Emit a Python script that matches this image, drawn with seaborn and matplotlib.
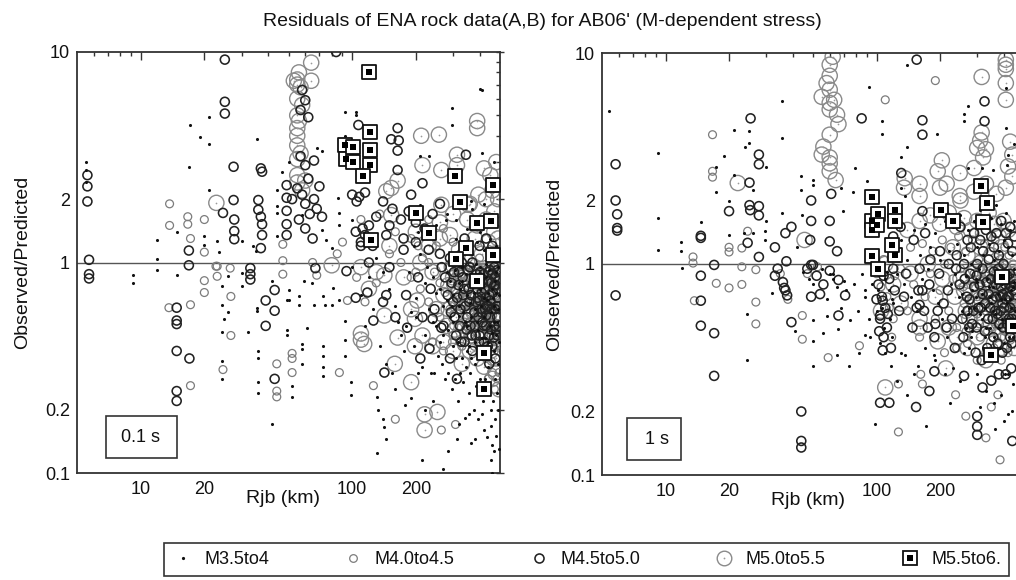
import numpy as np
import pandas as pd
import matplotlib
matplotlib.use("Agg")
import matplotlib.pyplot as plt
import seaborn as sns
from matplotlib.lines import Line2D
from matplotlib.patches import Rectangle
from matplotlib.legend_handler import HandlerTuple
from matplotlib.ticker import FixedLocator, FixedFormatter, NullFormatter

sns.set_style("white")
plt.rcParams["font.family"] = ["Liberation Sans", "DejaVu Sans"]

TITLE = "Residuals of ENA rock data(A,B) for AB06' (M-dependent stress)"
PANEL_LABELS = ["0.1 s", "1 s"]
CLASSES = ["M3.5to4", "M4.0to4.5", "M4.5to5.0", "M5.0to5.5", "M5.5to6."]
X_TICKS = [10, 20, 100, 200]
X_TICK_LABELS = ["10", "20", "100", "200"]
X_MINOR = [6, 7, 8, 9, 30, 40, 50, 60, 70, 80, 90, 300, 400]
Y_TICKS = [0.1, 0.2, 1, 2, 10]
Y_TICK_LABELS = ["0.1", "0.2", "1", "2", "10"]
Y_MINOR = [0.3, 0.4, 0.5, 0.6, 0.7, 0.8, 0.9, 3, 4, 5, 6, 7, 8, 9]

# ---------------- Left panel (0.1 s): (Rjb km, Observed/Predicted) ----------------
L_M35 = [(5.5,3.0),(5.5,2.75),(5.5,2.4),(17.2,4.5),(19,3.95),(21,4.9),(21,3.65),(35.5,3.85),(17,2.85),
 (21,2.2),(44,2.2),(50,3.0),(46.5,2.7),(12,1.28),(11.9,1.04),(14.8,1.4),(20,1.34),(20,1.21),(23,1.26),
 (30,1.26),(34,1.2),(35,1.13),(44,1.34),(44,1.72),(44,1.85),(23.5,1.12),(92,5.2),(104,5.2),(104,5.0),
 (92,4.0),(410,6.6),(297,5.4),(297,4.5),(410,3.3),(470,3.0),(68,3.5),(72,3.4),(232,3.2),(210,3.2),
 (86,2.02),(87,1.72),(87,1.5),(100,1.59),(72,1.43),(75,1.28),(80,1.17),(210,1.88),(279,1.59),(366,1.95),
 (58,1.68),(50,0.74),(50,0.66),(56,0.69),(56,0.63),(59,0.82),(64.5,0.8),(81,0.76),(66,0.63),(73,0.69),
 (74,0.63),(87,0.66),(80,0.63),(49,0.48),(49,0.45),(61,0.49),(58,0.41),(58,0.39),(73,0.4),(73,0.36),
 (73,0.32),(73,0.29),(58,0.33),(52,0.26),(52,0.23),(92,0.53),(92,0.43),(92,0.36),(99,0.27),(99,0.235),
 (131,0.23),(132,0.2),(140,0.18),(142,0.165),(145,0.145),(131,0.125),(213,0.115),(270,0.105),(285,0.127),
 (313,0.145),(366,0.139),(380,0.145),(420,0.16),(455,0.167),(460,0.136),(470,0.127),(455,0.115),(460,0.1),
 (435,0.148),(410,0.19),(355,0.19),(340,0.183),(320,0.17),(240,0.22),(220,0.2),(190,0.227),(178,0.21),
 (160,0.25),(9.2,0.87),(9.2,0.8),(11.9,0.92),(14.8,0.87),(26,0.86),(24.2,0.77),(24.2,0.63),(24.7,0.54),
 (25.8,0.58),(24.2,0.47),(30,0.89),(30,0.77),(32,0.47),(35.5,0.61),(35.5,0.59),(36,0.38),(36,0.35),
 (36,0.27),(36,0.24),(24.2,0.34),(24.2,0.28),(42,0.82),(42,0.17),(49,0.66),(400,6.7),
 (210,1.1),(225,0.95),(240,0.85),(260,0.75),(280,0.9),(300,1.0),(320,0.8),(350,0.7),(380,0.6),(420,0.55),
 (450,0.5),(480,0.45),(230,0.6),(250,0.5),(270,0.45),(300,0.4),(330,0.35),(360,0.3),(400,0.28),(440,0.32),
 (470,0.38),(490,0.6),(460,0.75),(430,0.85),(400,0.95),(370,1.1),(340,1.2),(310,1.3),(290,0.55),(320,0.62),
 (350,0.5),(380,0.42),(410,0.36),(440,0.42),(470,0.52),(495,0.7),(480,0.9),(450,1.05),(420,1.15),(390,1.25),
 (360,0.85),(330,0.95),(300,0.7),(270,0.62),(250,0.72),(220,0.8),(200,0.68),(190,0.58),(180,0.5),(170,0.45),
 (160,0.62),(150,0.75),(140,0.9),(130,1.05),(120,0.85),(110,0.7),(100,0.95),(115,0.5),(125,0.6),(135,0.4),
 (145,0.33),(155,0.3),(165,0.52),(175,0.38),(185,0.9),(195,1.2),(205,1.4),(215,0.32),(235,0.3),(255,0.36),
 (275,0.28),(295,0.25),(315,0.22),(335,0.27),(355,0.24),(375,0.2),(395,0.18),(415,0.22),(435,0.25),
 (455,0.2),(475,0.28),(490,0.33),(250,1.5),(280,1.7),(310,1.6),(350,1.45),(400,1.4),(450,1.3),(480,1.2),
 (330,2.0),(370,1.8),(420,1.9),(460,1.7),
 (285,0.48),(295,0.62),(305,0.92),(315,0.42),(325,0.75),(335,0.58),(345,0.88),(355,0.4),(365,0.55),
 (375,0.72),(385,0.98),(395,0.48),(405,0.62),(415,0.78),(425,0.44),(435,0.66),(445,0.92),(455,0.58),
 (465,0.68),(475,0.82),(485,0.52),(495,0.42),(490,0.95),(480,0.72),(470,0.62),(460,0.46),(450,0.36),
 (440,0.72),(430,0.98),(420,0.68),(410,0.44),(400,0.75),(390,0.52),(380,0.33),(370,0.86),(360,0.64),
 (350,0.38),(340,0.52),(330,0.82),(320,0.56),(310,0.35),(300,0.52),(290,0.82),(280,0.66),(260,0.42),
 (240,0.52),(220,0.45),(200,0.55),(195,0.4),(205,0.3),(245,0.3),(265,0.33),(285,0.3),(305,0.28),(325,0.3),
 (345,0.32),(365,0.35),(385,0.26),(405,0.24),(425,0.28),(445,0.26),(465,0.22),(485,0.24),(475,0.18),
 (490,0.2),(480,0.15),(495,0.13)]

L_M40 = [(13.7,1.9),(13.7,1.5),(16.7,1.65),(16.7,1.52),(20,1.6),(17.2,1.3),(20,1.12),(47,1.22),(47,1.02),
 (23,0.96),(52,0.37),(52,0.35),(52,0.3),(87,0.3),(126,0.26),(160,0.18),(264,0.16),(308,0.17),(95,0.66),
 (68,0.87),(22.7,0.96),(26.5,0.94),(23,0.86),(20,0.82),(20,0.72),(13.6,0.61),(17.2,0.63),(26.7,0.69),
 (26.7,0.45),(24.5,0.31),(17.2,0.26),(47,0.88),(44,0.33),(44,0.245),(44,0.23),(110,1.6),(135,1.7),
 (160,1.4),(190,1.3),(205,1.2),(230,1.6),(270,1.45),(90,1.25),(85,1.1),(65,1.0),
 (200,0.9),(230,1.0),(260,0.8),(290,0.95),(320,0.7),(350,0.9),(380,0.75),(410,0.65),(440,0.8),(470,0.7),
 (490,0.5),(470,0.45),(440,0.55),(410,0.5),(380,0.55),(350,0.6),(320,0.5),(290,0.6),(260,0.55),(230,0.65),
 (210,0.75),(190,0.85),(170,1.0),(150,1.1),(130,0.8),(115,0.65),(105,0.85),(250,1.2),(300,1.25),(350,1.15),
 (400,1.05),(450,1.0),(480,0.85),(400,0.4),(430,0.35),(460,0.3),(490,0.38),(360,0.45),(330,0.4),(300,0.45),
 (270,0.38),(240,0.42),(480,0.6),(455,0.65),(425,0.7),(395,0.85),(365,0.65),(335,0.8),(305,0.85),(275,0.72),
 (245,0.9),(215,1.05),(485,1.0),(465,0.9),(445,1.15),(415,0.95),(385,0.95),(355,1.05),(325,1.1),
 (282,0.62),(292,0.78),(302,0.5),(312,0.95),(322,0.42),(332,0.68),(342,0.85),(352,0.45),(362,0.58),
 (372,0.92),(382,0.66),(392,0.5),(402,0.6),(412,0.82),(422,0.62),(432,0.48),(442,0.68),(452,0.88),
 (462,0.56),(472,0.8),(482,0.5),(492,0.64),(488,0.86),(478,0.4),(468,0.62),(458,0.76),(448,0.42),
 (438,0.95),(428,0.58),(418,0.45),(408,0.72),(398,0.55),(388,0.82),(378,0.4),(368,0.78),(358,0.52),
 (348,0.7),(338,0.46),(328,0.88),(318,0.62),(308,0.74),(298,0.42),(495,0.3),(485,0.28),(470,0.25),
 (455,0.34),(440,0.28),
 (385,0.62),(405,0.78),(425,0.92),(445,0.6),(465,0.52),(485,0.78),(495,0.88),(475,0.66),(455,0.82),
 (435,0.52),(415,0.68),(395,0.95),(375,0.52),(490,0.45),(480,0.55),(470,0.42),(460,0.62),(450,0.72),
 (440,0.48)]

L_M45 = [(5.6,2.6),(5.6,2.3),(5.6,1.95),(5.7,1.03),(5.7,0.88),(5.7,0.84),(25,9.2),(25,5.8),(25,5.1),
 (27.5,2.85),(37,2.8),(37.5,2.7),(27.5,1.98),(24.5,1.72),(27.7,1.6),(27.7,1.41),(27.7,1.29),(36,1.98),
 (36,1.78),(37,1.65),(37.5,1.52),(37.5,1.35),(37,1.17),(49,2.33),(49,2.03),(49,1.76),(49,1.52),(49,1.35),
 (16.9,1.14),(16.9,0.97),(84,10.0),(164,4.35),(153,3.85),(166,3.8),(164,3.4),(164,2.75),(107,4.5),(215,2.38),
 (190,2.1),(345,3.25),(67,0.94),(94,0.91),(104,0.68),(118,0.72),(126,0.53),(142,0.3),(145,0.7),(182,0.49),
 (240,0.54),(264,0.49),(232,0.39),(210,0.35),(290,0.35),(313,0.28),(33,0.94),(33,0.88),(33,0.83),
 (14.8,0.61),(14.8,0.53),(14.8,0.51),(14.8,0.38),(17,0.35),(14.8,0.245),(14.8,0.22),(39,0.66),(43,0.74),
 (43,0.59),(39,0.5),(43,0.28),(57,3.2),(60,2.9),(62,2.5),(55,2.25),(58,2.1),(60,1.9),(63,1.7),(56,1.6),
 (60,1.45),(65,1.3),(52,2.0),(66,3.05),(66,2.0),(68,1.8),(70,2.3),(72,1.65),(58,6.6),(60,5.9),(57,5.3),
 (62,4.9),(100,2.1),(108,2.05),(115,2.15),(105,1.95),(112,1.45),(115,1.35),(110,1.25),(104,1.4),
 (140,1.95),(155,1.8),(170,1.6),(150,1.5),(185,1.75),(200,1.55),(220,1.45),(240,1.7),(260,1.9),(175,1.3),
 (130,1.65),(120,1.5),(145,1.35),(125,1.2),
 (205,0.85),(235,0.75),(265,0.95),(295,0.8),(325,0.6),(355,0.75),(385,0.65),(415,0.8),(445,0.7),(475,0.6),
 (490,0.75),(470,0.95),(440,0.9),(410,0.6),(380,0.5),(350,0.55),(320,0.9),(290,1.05),(260,1.1),(230,1.15),
 (200,1.25),(180,0.7),(160,0.55),(140,0.65),(120,1.0),(110,1.2),(150,0.95),(175,1.15),(310,0.45),(340,0.42),
 (370,0.38),(400,0.45),(430,0.5),(460,0.4),(485,0.45),(450,0.55),(420,0.42),(390,0.75),(360,0.95),
 (330,1.0),(300,0.65),(270,0.5),(245,0.6),(215,0.55),(480,1.05),(460,1.2),(430,1.3),(400,1.2),(370,1.0),
 (340,1.3),(455,0.8),(425,0.6),(395,0.55),(365,0.7),(335,0.7),(305,0.55),(275,0.85),(490,0.9),(485,0.55),
 (470,0.5),(445,0.45),(475,0.35),(445,0.33),
 (283,0.7),(293,0.58),(303,0.9),(313,0.68),(323,0.5),(333,0.85),(343,0.62),(353,0.92),(363,0.5),(373,0.8),
 (383,0.45),(393,0.68),(403,0.9),(413,0.52),(423,0.75),(433,0.62),(443,0.82),(453,0.48),(463,0.72),
 (473,0.85),(483,0.62),(493,0.5),(488,0.68),(478,0.78),(468,0.44),(458,0.6),(448,0.92),(438,0.4),
 (428,0.68),(418,0.88),(408,0.58),(398,0.42),(388,0.88),(378,0.58),(368,0.45),(358,0.65),(348,0.48),
 (338,0.75),(328,0.42),(318,0.78),
 (390,0.8),(410,0.72),(430,0.56),(450,0.66),(470,0.78),(490,0.62),(480,0.48),(460,0.88),(440,0.62),
 (420,0.5),(400,0.66),(495,0.82),(485,0.92)]

L_M50 = [(22.8,1.92),(53,7.3),(55,7.4),(55,7.0),(55,6.0),(55,5.0),(55,4.35),(55,3.6),(55,3.1),(55,2.6),
 (64,8.9),(64,7.3),(56,8.0),(57,6.8),(58,5.6),(56,4.7),(55,4.0),(57,3.3),(55,2.4),(58,2.2),(212,4.0),
 (257,4.05),(215,2.9),(264,2.75),(153,2.26),(145,2.18),(164,2.45),(390,4.7),(390,4.35),(313,3.25),
 (313,2.9),(355,1.88),(264,1.88),(153,1.68),(60,2.45),(110,0.46),(110,0.43),(114,0.41),(164,0.44),
 (198,0.4),(159,0.33),(190,0.27),(220,0.19),(220,0.16),(253,0.195),(203,0.66),(142,0.87),(80,0.97),
 (198,0.54),(142,0.56),(240,0.4),
 (210,1.0),(240,0.9),(270,0.7),(300,0.85),(330,0.65),(360,0.8),(390,0.7),(420,0.9),(450,0.75),(480,0.65),
 (490,0.8),(470,1.1),(440,1.25),(410,1.1),(380,1.3),(350,1.0),(320,1.15),(290,1.35),(260,1.3),(230,1.2),
 (200,1.4),(250,0.6),(280,0.5),(310,0.55),(340,0.5),(370,0.45),(400,0.55),(430,0.45),(460,0.55),(490,0.45),
 (480,0.35),(450,0.38),(420,0.32),(390,0.35),(360,0.38),(330,0.33),(300,0.38),(270,0.42),(150,1.2),
 (130,0.9),(120,0.75),(110,0.95),(175,0.85),(190,0.6),(215,0.45),(465,0.95),(435,0.6),(405,0.8),(375,0.58),
 (345,0.75),(315,0.72),(285,0.78),(470,1.4),(430,1.6),(390,1.5),(350,1.6),(300,1.7),(260,1.55),(490,1.3),
 (470,1.75),(490,2.0),(460,2.2),(430,2.0),(395,2.1),(360,1.9),(450,2.6),(420,2.8),(480,3.0),
 (286,0.6),(306,0.48),(326,0.9),(346,0.62),(366,0.5),(386,0.9),(406,0.62),(426,0.78),(446,0.5),(466,0.65),
 (486,0.72),(496,0.58),(476,0.85),(456,0.45),(436,0.7),(416,0.52),(396,0.8),(376,0.66),(356,0.55),
 (336,0.85),(316,0.62),(296,0.95),(495,0.95),(485,1.1),(475,0.3),(495,0.25),(460,0.28)]

L_M55 = [(92,3.6),(94,3.1),(120,8.0),(121,4.17),(101,3.55),(121,3.43),(101,3.0),(121,2.9),(112,2.58),
 (305,2.58),(465,2.33),(325,1.94),(200,1.72),(390,1.54),(455,1.57),(230,1.38),(123,1.28),(345,1.17),
 (310,1.04),(465,1.09),(390,0.82),(420,0.37),(420,0.25)]

# ---------------- Right panel (1 s) ----------------
R_M35 = [(5.4,5.3),(9.2,3.35),(9.2,1.65),(9.2,1.17),(11.9,1.27),(11.9,1.15),(14.7,1.58),(17.3,2.88),
 (17.3,2.2),(19,3.25),(20,1.98),(20,1.37),(21,4.3),(21,2.65),(23.7,3.6),(24.8,4.25),(24.8,3.75),(26,2.25),
 (30,2.88),(30,1.6),(29.6,1.43),(29.6,1.3),(35.6,5.9),(35.6,3.95),(35.6,1.75),(44,2.6),(44,2.25),(42,1.2),
 (44.5,1.7),(23.5,1.4),(26,1.4),(139,8.8),(92,6.9),(106,4.75),(106,4.15),(193,4.15),(139,3.6),(131,3.2),
 (260,5.15),(270,5.6),(260,4.75),(410,6.8),(410,4.4),(79,2.85),(50,2.5),(50,2.36),(90,2.47),(68,2.3),
 (77,2.2),(69,1.78),(270,2.85),(315,2.85),(355,2.8),(420,3.3),(415,2.95),(450,3.7),(137,2.1),(131,2.3),
 (12,0.96),(24.2,0.58),(24.2,0.35),(32,0.73),(41,0.48),(50,0.54),(50,0.43),(50,0.33),(56,0.47),(65,0.37),
 (74,0.33),(83,0.38),(66,0.49),(98,0.175),(172,0.17),(75,0.54),(58,0.68),(58,0.57),(88,0.75),(88,0.46),
 (93,0.45),(137,0.37),(140,0.24),(224,0.22),(365,0.165),(420,0.195),(310,0.21),(188,0.37),(157,0.33),
 (117,0.33),(45,0.92),(48,0.85),(50,0.8),(55,0.95),(60,0.9),(62,0.85),(65,0.78),(70,0.83),
 (105,0.95),(110,0.85),(115,0.75),(120,0.65),(100,0.6),(108,0.5),(118,0.45),(125,0.9),(135,0.8),(145,0.7),
 (155,0.6),(165,0.85),(175,0.95),(185,0.75),(195,0.65),(205,0.55),(215,0.45),(225,0.8),(235,0.9),(245,0.7),
 (255,0.6),(265,0.5),(275,0.4),(285,0.75),(295,0.85),(305,0.65),(315,0.55),(325,0.45),(335,0.35),(345,0.7),
 (355,0.6),(365,0.9),(375,0.5),(385,0.4),(395,0.8),(405,0.3),(415,0.65),(425,0.55),(435,0.75),(445,0.45),
 (450,0.95),(440,1.1),(420,1.2),(400,1.3),(380,1.15),(360,1.05),(340,1.25),(320,1.1),(300,1.2),(280,1.0),
 (260,1.1),(240,1.25),(220,1.15),(200,1.05),(180,1.2),(160,1.1),(140,1.05),(130,1.3),(150,1.45),(170,1.55),
 (190,1.4),(210,1.6),(230,1.5),(250,1.7),(270,1.45),(290,1.6),(310,1.8),(330,1.5),(350,1.65),(370,1.9),
 (390,1.55),(410,1.75),(430,1.45),(450,1.6),(88,0.7),(92,0.55),(95,0.8),(85,0.9),(82,0.6),(78,0.8),(72,0.75),
 (68,0.62),(62,0.9),(170,0.4),(190,0.35),(210,0.3),(230,0.32),(250,0.28),(300,0.3),(330,0.25),(360,0.22),
 (390,0.24),(420,0.3),(445,0.27),(440,0.2),(400,0.18),(150,0.3),(130,0.38),(125,0.28),
 (255,0.72),(265,0.88),(275,0.62),(285,0.48),(295,0.7),(305,0.95),(315,0.72),(325,0.62),(335,0.85),
 (345,0.5),(355,0.78),(365,0.58),(375,0.72),(385,0.88),(395,0.55),(405,0.68),(415,0.85),(425,0.45),
 (435,0.62),(445,0.78),(455,0.6),(450,0.82),(440,0.5),(430,0.68),(420,0.92),(410,0.55),(400,0.42),
 (390,0.68),(380,0.5),(370,0.82),(360,0.45),(350,0.65),(340,0.78),(330,0.5),(320,0.4),(310,0.58),
 (300,0.82),(290,0.62),(280,0.45),(270,0.58),(260,0.38),(102,0.75),(106,0.62),(112,0.92),(116,0.55),
 (104,0.42),(110,0.38),(118,0.68)]

R_M40 = [(16.7,4.1),(16.7,2.75),(16.7,2.58),(20,1.2),(20,1.14),(23,1.19),(13.5,1.08),(13.5,1.01),
 (24.5,1.43),(190,7.4),(110,6.0),(13.7,0.67),(17.4,0.81),(20,0.77),(23,0.8),(26.8,0.66),(26.8,0.52),(23,0.97),
 (26.8,0.94),(44.5,0.57),(44.5,0.44),(59,0.36),(83,0.41),(127,0.16),(127,0.27),(162,0.3),(165,0.27),
 (265,0.19),(330,0.15),(385,0.118),(237,0.24),(376,0.24),(350,0.21),(52.5,0.97),(47,0.9),(35,0.9),(38,0.68),
 (100,0.9),(112,0.7),(120,0.55),(130,0.95),(140,0.6),(150,0.8),(160,0.45),(170,0.7),(180,0.9),(190,0.55),
 (200,0.75),(210,1.0),(220,0.6),(230,0.85),(240,0.5),(250,0.95),(260,0.65),(270,0.8),(280,0.55),(290,0.9),
 (300,0.7),(310,0.45),(320,0.85),(330,0.6),(340,0.95),(350,0.5),(360,0.75),(370,0.6),(380,0.85),(390,0.45),
 (400,0.7),(410,0.9),(420,0.5),(430,0.8),(440,0.6),(450,0.7),(445,1.0),(425,1.1),(405,1.2),(385,1.05),
 (365,1.3),(345,1.15),(325,1.25),(305,1.05),(285,1.3),(265,1.15),(245,1.35),(225,1.2),(205,1.3),(185,1.15),
 (165,1.25),(145,1.2),(125,1.1),(108,1.05),(420,0.38),(390,0.35),(360,0.4),(330,0.38),(300,0.35),(270,0.42),
 (240,0.4),(210,0.38),(440,0.42),(450,0.5),
 (258,0.78),(272,0.6),(286,0.85),(300,0.58),(314,0.75),(328,0.9),(342,0.62),(356,0.8),(370,0.48),
 (384,0.66),(398,0.85),(412,0.6),(426,0.72),(440,0.88),(454,0.62),(448,0.45),(434,0.58),(420,0.8),
 (406,0.48),(392,0.72),(378,0.56),(364,0.88),(350,0.72),(336,0.48),(322,0.68),(308,0.52),(294,0.72),
 (280,0.65),(266,0.48),(105,0.78),(115,0.62),(122,0.88),(118,0.45),
 (360,0.62),(380,0.72),(400,0.58),(420,0.66),(440,0.78),(455,0.55),(445,0.68),(425,0.88),(405,0.52),
 (385,0.95),(365,0.52),(450,0.9)]

R_M45 = [(5.8,2.97),(5.8,2.0),(5.9,1.72),(5.9,1.48),(5.9,1.44),(25.3,4.9),(27.7,3.3),(27.7,2.97),(25,2.43),
 (25,1.9),(25.2,1.8),(27.7,1.88),(27.7,1.7),(14.7,1.36),(14.7,1.33),(37,1.4),(39.5,1.5),(24.5,1.26),(33,1.2),
 (27.7,1.08),(17,0.99),(37.4,1.03),(20,1.78),(155,9.3),(85,4.9),(165,4.8),(165,4.1),(325,5.9),(325,4.75),
 (49,2.0),(61,2.15),(49,1.6),(60,1.6),(48.5,1.3),(60,1.28),(65,1.15),(49,0.99),(165,1.78),(131,2.7),
 (5.8,0.71),(14.7,0.88),(14.7,0.67),(14.7,0.51),(17,0.47),(17,0.295),(44,0.2),(44,0.145),(44,0.135),
 (39.5,0.53),(36.5,0.77),(37.7,0.71),(33,0.88),(49,0.7),(66,0.57),(66,0.84),(71,0.71),(50,0.99),(60,0.93),
 (107,0.67),(104,0.57),(107,0.39),(104,0.22),(115,0.22),(154,0.21),(188,0.31),(178,0.25),(300,0.19),
 (300,0.17),(300,0.155),(440,0.145),(318,0.26),(260,0.295),(160,0.64),(165,0.75),(190,0.52),(34,0.95),
 (36,0.82),(37,0.75),(47,0.95),(52,0.88),(56,0.8),(54,0.72),
 (102,0.8),(106,0.7),(110,0.62),(104,0.55),(112,0.5),(108,0.45),(115,0.85),(122,0.75),(128,0.6),(138,0.9),
 (148,0.5),(158,0.75),(168,0.6),(178,0.8),(188,0.45),(198,0.9),(208,0.65),(218,0.75),(228,0.55),(238,0.95),
 (248,0.8),(258,0.45),(268,0.7),(278,0.9),(288,0.6),(298,0.5),(308,0.8),(318,0.95),(328,0.65),(338,0.55),
 (348,0.85),(358,0.45),(368,0.7),(378,0.95),(388,0.6),(398,0.5),(408,0.8),(418,0.7),(428,0.9),(438,0.55),
 (448,0.65),(445,0.85),(430,0.45),(415,0.4),(395,0.38),(375,0.42),(355,0.55),(335,0.4),(315,0.35),(295,0.38),
 (275,0.5),(255,0.55),(235,0.4),(215,0.5),(195,0.6),(175,0.5),(155,0.62),(135,0.7),(160,0.95),(180,1.05),
 (200,1.15),(220,1.0),(240,1.1),(260,1.0),(280,1.2),(300,1.0),(320,1.15),(340,1.05),(360,1.2),(380,1.1),
 (400,1.0),(420,1.25),(440,1.15),(450,1.35),(430,1.5),(410,1.4),(390,1.6),(370,1.4),(350,1.35),(330,1.45),
 (310,1.3),(290,1.4),(270,1.3),(250,1.5),(150,1.3),(170,1.4),(130,1.5),(120,1.35),(435,0.32),(410,0.3),
 (380,0.3),(350,0.28),
 (262,0.85),(276,0.68),(290,0.78),(304,0.62),(318,0.72),(332,0.82),(346,0.62),(360,0.92),(374,0.58),
 (388,0.78),(402,0.62),(416,0.88),(430,0.62),(444,0.75),(452,0.5),(438,0.42),(424,0.55),(410,0.68),
 (396,0.72),(382,0.52),(368,0.8),(354,0.68),(340,0.72),(326,0.48),(312,0.62),(298,0.88),(284,0.52),
 (270,0.6),(100,0.68),(108,0.88),(113,0.58),(120,0.95),(103,0.48),(117,0.4),
 (365,0.6),(385,0.7),(405,0.9),(425,0.7),(445,0.58),(455,0.8),(435,0.78),(415,0.52),(395,0.65),(375,0.85)]

R_M50 = [(22,2.42),(45.6,1.3),(60,8.8),(60,7.8),(60,6.7),(55,6.2),(60,5.8),(60,5.4),(65,5.1),(66,4.6),
 (60,4.1),(55,3.3),(60,3.2),(60,2.75),(62,9.6),(58,7.2),(63,6.0),(56,3.6),(60,3.0),(64,2.5),(315,7.7),
 (410,8.8),(410,8.4),(410,6.0),(315,4.2),(310,3.85),(300,3.55),(204,3.1),(195,2.75),(248,2.7),(160,2.4),
 (136,2.55),(290,2.85),(215,2.4),(248,2.1),(410,9.3),(410,7.2),(330,3.5),(320,3.2),(110,0.26),(160,0.5),
 (213,0.32),(195,0.43),
 (105,0.6),(110,1.0),(120,0.8),(130,0.65),(145,0.9),(160,0.55),(175,1.0),(190,0.7),(205,0.85),(220,0.5),
 (235,0.7),(250,0.85),(265,0.6),(280,0.75),(295,0.95),(310,0.65),(325,0.8),(340,0.5),(355,0.9),(370,0.55),
 (385,0.75),(400,0.95),(415,0.6),(430,0.85),(445,0.55),(440,1.3),(420,1.45),(400,1.6),(380,1.35),(360,1.55),
 (340,1.75),(320,1.4),(300,1.6),(280,1.45),(260,1.65),(240,1.5),(220,1.75),(200,1.55),(180,1.7),(160,1.6),
 (140,1.45),(250,2.0),(290,2.2),(330,2.4),(370,2.15),(410,2.3),(200,2.3),(160,2.1),(135,2.3),(230,1.2),
 (270,1.1),(310,1.2),(350,1.1),(390,1.2),(430,1.05),(300,0.45),(270,0.4),(330,0.35),(360,0.42),(240,0.45),
 (390,0.4),(420,0.45),(450,0.4),(440,2.6),(420,2.9),(440,3.3),(430,3.8),
 (260,0.75),(285,0.9),(305,0.75),(325,0.55),(345,0.8),(365,0.65),(385,0.9),(405,0.7),(425,0.5),(445,0.95),
 (455,0.72),(435,0.68),(415,0.8),(395,0.55),(375,0.85),(355,0.7),(335,0.62),(315,0.9),(295,0.68),(275,0.55)]

R_M55 = [(95,1.6),(95,1.45),(95,2.07),(102,1.73),(123,1.8),(122,1.6),(101,1.53),(202,1.8),(230,1.6),
 (312,2.33),(335,1.94),(318,1.58),(95,1.09),(122,1.1),(119,1.23),(102,0.95),(393,0.87),(350,0.37),(445,0.51)]

PANELS = [
    dict(label=PANEL_LABELS[0], data=[L_M35, L_M40, L_M45, L_M50, L_M55]),
    dict(label=PANEL_LABELS[1], data=[R_M35, R_M40, R_M45, R_M50, R_M55]),
]


def panel_frame(lists):
    rows = []
    for cls, pts in zip(CLASSES, lists):
        for x, y in pts:
            rows.append((cls, x, y))
    return pd.DataFrame(rows, columns=["mag", "rjb", "ratio"])


W, H = 1016, 580
fig = plt.figure(figsize=(W / 100, H / 100), dpi=100)
ax_rects = [
    [77 / W, 1 - 473 / H, 423 / W, 421 / H],
    [602 / W, 1 - 475 / H, 422 / W, 422 / H],
]
box_rects = [
    (0.0686, 0.0356, 0.1678, 0.0998),
    (0.0592, 0.0355, 0.1280, 0.0995),
]
label_pos = [(0.151, 0.0855), (0.1315, 0.085)]
ylabel_x = [-0.109, -0.093]

GRAY_S = "#7c7c7c"
GRAY_L = "#8a8a8a"
DARK = "#222222"

for i, panel in enumerate(PANELS):
    ax = fig.add_axes(ax_rects[i])
    df = panel_frame(panel["data"])
    d = {c: df[df["mag"] == c] for c in CLASSES}

    sns.scatterplot(data=d["M5.0to5.5"], x="rjb", y="ratio", ax=ax, marker="o", s=120,
                    facecolor="none", edgecolor=GRAY_L, linewidth=1.0, zorder=2)
    sns.scatterplot(data=d["M5.0to5.5"], x="rjb", y="ratio", ax=ax, marker="o", s=1.5,
                    color="#9a9a9a", linewidth=0, zorder=2)
    sns.scatterplot(data=d["M4.0to4.5"], x="rjb", y="ratio", ax=ax, marker="o", s=32,
                    facecolor="none", edgecolor=GRAY_S, linewidth=0.9, zorder=3)
    sns.scatterplot(data=d["M4.5to5.0"], x="rjb", y="ratio", ax=ax, marker="o", s=42,
                    facecolor="none", edgecolor=DARK, linewidth=1.15, zorder=4)
    sns.scatterplot(data=d["M3.5to4"], x="rjb", y="ratio", ax=ax, marker="o", s=5,
                    color="#111111", linewidth=0, zorder=5)
    sns.scatterplot(data=d["M5.5to6."], x="rjb", y="ratio", ax=ax, marker="s", s=95,
                    facecolor="white", edgecolor="#111111", linewidth=1.3, zorder=6)
    sns.scatterplot(data=d["M5.5to6."], x="rjb", y="ratio", ax=ax, marker="s", s=14,
                    color="#000000", linewidth=0, zorder=7)

    ax.axhline(1.0, color="#555555", lw=1.0, zorder=1)

    ax.set_xscale("log")
    ax.set_yscale("log")
    ax.set_xlim(5, 500)
    ax.set_ylim(0.1, 10)
    ax.xaxis.set_major_locator(FixedLocator(X_TICKS))
    ax.xaxis.set_major_formatter(FixedFormatter(X_TICK_LABELS))
    ax.xaxis.set_minor_locator(FixedLocator(X_MINOR))
    ax.xaxis.set_minor_formatter(NullFormatter())
    ax.yaxis.set_major_locator(FixedLocator(Y_TICKS))
    ax.yaxis.set_major_formatter(FixedFormatter(Y_TICK_LABELS))
    ax.yaxis.set_minor_locator(FixedLocator(Y_MINOR))
    ax.yaxis.set_minor_formatter(NullFormatter())

    ax.tick_params(which="both", direction="in", top=True, right=True, color="#333333", width=1.0)
    ax.tick_params(which="major", length=5.5, labelsize=13, labelcolor="#111111")
    ax.tick_params(which="minor", length=3)
    ax.tick_params(axis="y", which="major", direction="inout", length=6, pad=2)
    ax.tick_params(axis="x", which="major", pad=6)
    for sp in ax.spines.values():
        sp.set_color("#333333")
        sp.set_linewidth(1.3)

    ax.set_xlabel("Rjb (km)", fontsize=14, color="#111111")
    ax.set_ylabel("Observed/Predicted", fontsize=14, color="#111111")
    ax.xaxis.set_label_coords(0.488, -0.04)
    ax.yaxis.set_label_coords(ylabel_x[i], 0.5)

    bx, by, bw, bh = box_rects[i]
    ax.add_patch(Rectangle((bx, by), bw, bh, transform=ax.transAxes, fill=True,
                           facecolor="white", edgecolor="#333333", lw=1.2, zorder=8))
    ax.text(label_pos[i][0], label_pos[i][1], panel["label"], transform=ax.transAxes,
            ha="center", va="center", fontsize=13, color="#111111", zorder=9)
    if ax.get_legend() is not None:
        ax.get_legend().remove()

fig.text(542.5 / W, 1 - 22 / H, TITLE, ha="center", va="center", fontsize=14, color="#111111")

h_dot = Line2D([], [], ls="none", marker="o", ms=2.3, mfc="#111111", mec="#111111", mew=0)
h_40 = Line2D([], [], ls="none", marker="o", ms=5.5, mfc="none", mec=GRAY_S, mew=0.9)
h_45 = Line2D([], [], ls="none", marker="o", ms=6.5, mfc="none", mec=DARK, mew=1.15)
h_50a = Line2D([], [], ls="none", marker="o", ms=10.5, mfc="none", mec=GRAY_L, mew=1.0)
h_50b = Line2D([], [], ls="none", marker="o", ms=1.3, mfc="#9a9a9a", mec="#9a9a9a", mew=0)
h_55a = Line2D([], [], ls="none", marker="s", ms=9.5, mfc="white", mec="#111111", mew=1.3)
h_55b = Line2D([], [], ls="none", marker="s", ms=3.7, mfc="#000000", mec="#000000", mew=0)

leg = fig.legend([h_dot, h_40, h_45, (h_50a, h_50b), (h_55a, h_55b)], CLASSES,
                 handler_map={tuple: HandlerTuple(ndivide=1)},
                 loc="center", bbox_to_anchor=(586.5 / W, 1 - 559.5 / H), ncol=5,
                 fontsize=13, frameon=True, fancybox=False, framealpha=1, edgecolor="#333333",
                 handlelength=1.2, handletextpad=0.6, columnspacing=4.05, borderpad=0.45)
leg.get_frame().set_linewidth(1.2)
for t in leg.get_texts():
    t.set_color("#111111")

fig.savefig("out.png", dpi=100)
